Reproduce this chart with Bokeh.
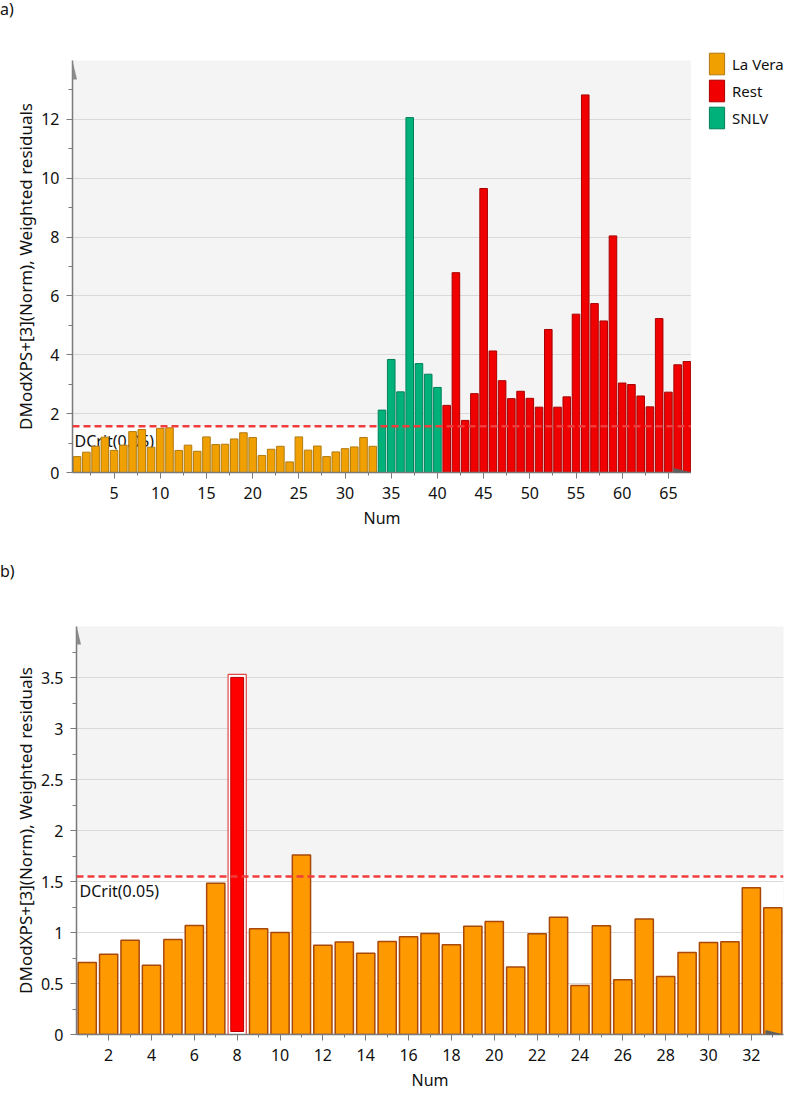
from bokeh.plotting import figure
from bokeh.layouts import column, row
from bokeh.models import (Range1d, FixedTicker, Span, BoxAnnotation, PolyAnnotation,
                          Legend, LegendItem, Div)
from bokeh.core.properties import value
from bokeh.embed import file_html
from bokeh.resources import INLINE

FONT = "Noto Sans"

# ---------------- data: panel a) ----------------
a_lavera_num = list(range(1, 34))
a_lavera_val = [0.54, 0.69, 0.89, 1.20, 0.75, 0.93, 1.39, 1.46, 0.86, 1.50, 1.52,
                0.75, 0.93, 0.72, 1.21, 0.95, 0.96, 1.14, 1.35, 1.19, 0.58, 0.79,
                0.89, 0.36, 1.21, 0.76, 0.90, 0.54, 0.70, 0.81, 0.87, 1.19, 0.89]
a_snlv_num = list(range(34, 41))
a_snlv_val = [2.12, 3.84, 2.74, 12.06, 3.70, 3.34, 2.89]
a_rest_num = list(range(41, 68))
a_rest_val = [2.28, 6.79, 1.77, 2.68, 9.65, 4.13, 3.12, 2.51, 2.76, 2.52, 2.22,
              4.86, 2.22, 2.57, 5.38, 12.83, 5.74, 5.15, 8.04, 3.04, 2.99, 2.60,
              2.23, 5.23, 2.73, 3.66, 3.77]
a_dcrit = 1.57
a_xticks = [5, 10, 15, 20, 25, 30, 35, 40, 45, 50, 55, 60, 65]
a_xminor = [2.5, 7.5, 12.5, 17.5, 22.5, 27.5, 32.5, 37.5, 42.5, 47.5, 52.5, 57.5, 62.5, 67.5]
a_yticks = [0, 2, 4, 6, 8, 10, 12]
a_yminor = [1, 3, 5, 7, 9, 11, 13]
legend_labels = ["La Vera", "Rest", "SNLV"]

# ---------------- data: panel b) ----------------
b_num = list(range(1, 34))
b_val = [0.705, 0.786, 0.925, 0.679, 0.932, 1.068, 1.484, 3.53, 1.036, 1.00, 1.76,
         0.876, 0.906, 0.796, 0.912, 0.958, 0.990, 0.880, 1.062, 1.107, 0.662,
         0.987, 1.149, 0.481, 1.065, 0.536, 1.133, 0.568, 0.805, 0.903, 0.909,
         1.438, 1.243]
b_highlight = [8]
b_dcrit = 1.55
b_xticks = [2, 4, 6, 8, 10, 12, 14, 16, 18, 20, 22, 24, 26, 28, 30, 32]
b_xminor = [1, 3, 5, 7, 9, 11, 13, 15, 17, 19, 21, 23, 25, 27, 29, 31, 33]
b_yticks = [0, 0.5, 1, 1.5, 2, 2.5, 3, 3.5]
b_yminor = [0.25, 0.75, 1.25, 1.75, 2.25, 2.75, 3.25, 3.75]

AXIS_COLOR = "#7A7A7A"
TEXT_COLOR = "#111111"
C_LAVERA, L_LAVERA = "#F0A000", "#B07A10"
C_REST, L_REST = "#F00000", "#A80000"
C_SNLV, L_SNLV = "#00B27A", "#00805A"

YLABEL = "DModXPS+[3](Norm), Weighted residuals"
PAGE_W = 790


def style(p, xt, xm, yt, ym, ylabel):
    p.xaxis.ticker = FixedTicker(ticks=xt, minor_ticks=xm)
    p.yaxis.ticker = FixedTicker(ticks=yt, minor_ticks=ym)
    p.ygrid.ticker = FixedTicker(ticks=yt)
    p.xgrid.visible = False
    p.ygrid.grid_line_color = "#D9D9D9"
    p.ygrid.grid_line_width = 1
    for ax in (p.xaxis[0], p.yaxis[0]):
        ax.axis_line_color = AXIS_COLOR
        ax.axis_line_width = 1.5
        ax.major_tick_line_color = AXIS_COLOR
        ax.minor_tick_line_color = AXIS_COLOR
        ax.major_tick_in = 0
        ax.minor_tick_in = 0
        ax.major_tick_out = 6
        ax.major_label_text_font = FONT
        ax.major_label_text_font_size = "16px"
        ax.major_label_text_color = TEXT_COLOR
        ax.axis_label_text_font = FONT
        ax.axis_label_text_font_size = "16px"
        ax.axis_label_text_font_style = "normal"
        ax.axis_label_text_color = TEXT_COLOR
    p.yaxis.axis_label_text_font_size = "17px"
    p.xaxis.minor_tick_out = 3
    p.yaxis.minor_tick_out = 4
    p.xaxis.major_label_standoff = 8
    p.yaxis.major_label_standoff = 7
    p.xaxis.axis_label_standoff = 5
    p.yaxis.axis_label_standoff = 1
    p.xaxis.axis_label = "Num"
    p.yaxis.axis_label = ylabel
    p.outline_line_color = None
    p.background_fill_color = "#F4F4F4"
    p.border_fill_color = "white"


def arrows(p, fw, fh):
    p.add_layout(PolyAnnotation(xs=[-4.5, 0, 4.5], ys=[fh - 19, fh, fh - 19],
                                xs_units="screen", ys_units="screen",
                                fill_color="#8C8C8C", fill_alpha=1, line_color=None))
    p.add_layout(PolyAnnotation(xs=[fw - 18, fw, fw - 18], ys=[4.5, 0, -4.5],
                                xs_units="screen", ys_units="screen",
                                fill_color="#5E5E5E", fill_alpha=1, line_color=None))


def panel_tag(txt, w, h):
    return Div(text=txt, width=w, height=h,
               styles={"font-family": FONT, "font-size": "16px", "color": TEXT_COLOR,
                       "line-height": "18px", "margin": "0", "padding": "0"})


# ---------------- figure a) ----------------
FL1, FW1, FH1 = 72, 619, 412
H1 = 540
TAG_A_H = 22
p1 = figure(width=FL1 + FW1, height=H1, output_backend="svg", toolbar_location=None,
            x_range=Range1d(0.5, 67.5), y_range=Range1d(0, 14),
            min_border_left=FL1, min_border_right=0, min_border_top=38,
            min_border_bottom=H1 - 38 - FH1)
style(p1, a_xticks, a_xminor, a_yticks, a_yminor, YLABEL)
p1.add_layout(BoxAnnotation(bottom=0, top=a_dcrit, fill_color="white", fill_alpha=1,
                            line_color=None, level="image"))
p1.text(x=[p1.x_range.start], y=[a_dcrit], text=["DCrit(0.05)"], x_offset=2, y_offset=4,
        text_baseline="top", text_align="left", text_font=value(FONT),
        text_font_size="16px", text_color=TEXT_COLOR)
p1.vbar(x=a_lavera_num, top=a_lavera_val, width=0.82, fill_color=C_LAVERA,
        line_color=L_LAVERA, line_width=1)
p1.vbar(x=a_rest_num, top=a_rest_val, width=0.82, fill_color=C_REST,
        line_color=L_REST, line_width=1)
p1.vbar(x=a_snlv_num, top=a_snlv_val, width=0.82, fill_color=C_SNLV,
        line_color=L_SNLV, line_width=1)
p1.add_layout(Span(location=a_dcrit, dimension="width", line_color="#F03C3C",
                   line_width=2.5, line_dash="7 4"))
arrows(p1, FW1, FH1)

# legend panel (separate figure, so the legend is not clipped by the bar plot's frame);
# its dummy bars lie outside its own ranges and are never visible
PL_H = TAG_A_H + H1
pl = figure(width=PAGE_W - (FL1 + FW1), height=PL_H, output_backend="svg",
            toolbar_location=None, x_axis_type=None, y_axis_type=None,
            min_border_left=0, min_border_right=0, min_border_top=34,
            min_border_bottom=0, x_range=Range1d(0, 1), y_range=Range1d(0, 1))
pl.outline_line_color = None
pl.background_fill_color = "white"
pl.border_fill_color = "white"
leg_r = []
for c, lc in [(C_LAVERA, L_LAVERA), (C_REST, L_REST), (C_SNLV, L_SNLV)]:
    leg_r.append(pl.vbar(x=[-5], bottom=[-6], top=[-5], width=0.5, fill_color=c,
                         line_color=lc, line_width=1))
legend = Legend(items=[LegendItem(label=l, renderers=[r]) for l, r in zip(legend_labels, leg_r)],
                location="top_left", glyph_width=19, glyph_height=27, spacing=0,
                padding=0, margin=16, border_line_color=None,
                background_fill_alpha=0, label_text_font=FONT, label_text_font_size="15px",
                label_text_color=TEXT_COLOR, label_standoff=6, label_height=27)
pl.add_layout(legend)

# ---------------- figure b) ----------------
FL2, FW2, FH2 = 76, 707, 409
H2 = 511
b_lv_num = [n for n in b_num if n not in b_highlight]
b_lv_val = [v for n, v in zip(b_num, b_val) if n not in b_highlight]
b_hi_num = [n for n in b_num if n in b_highlight]
b_hi_val = [v for n, v in zip(b_num, b_val) if n in b_highlight]
gap = 3.0 * 4 / FH2  # 3 px inner gap expressed in data units

p2 = figure(width=PAGE_W, height=H2, output_backend="svg", toolbar_location=None,
            x_range=Range1d(0.5, 33.5), y_range=Range1d(0, 4),
            min_border_left=FL2, min_border_right=PAGE_W - FL2 - FW2, min_border_top=44,
            min_border_bottom=H2 - 44 - FH2)
style(p2, b_xticks, b_xminor, b_yticks, b_yminor, YLABEL)
p2.add_layout(BoxAnnotation(bottom=0, top=b_dcrit, fill_color="white", fill_alpha=1,
                            line_color=None, level="image"))
p2.text(x=[p2.x_range.start], y=[b_dcrit], text=["DCrit(0.05)"], x_offset=3, y_offset=4,
        text_baseline="top", text_align="left", text_font=value(FONT),
        text_font_size="16px", text_color=TEXT_COLOR)
p2.vbar(x=b_lv_num, top=b_lv_val, width=0.85, fill_color="#FF9900",
        line_color="#A8480A", line_width=1.5)
p2.vbar(x=b_hi_num, top=b_hi_val, width=0.85, fill_color="white",
        line_color="#E04848", line_width=1.2)
p2.vbar(x=b_hi_num, top=[v - gap for v in b_hi_val], bottom=gap, width=0.6,
        fill_color="#FF0000", line_color="#B80000", line_width=1)
p2.add_layout(Span(location=b_dcrit, dimension="width", line_color="#F03C3C",
                   line_width=2.5, line_dash="7 4"))
arrows(p2, FW2, FH2)

top_block = row(column(panel_tag("a)", FL1 + FW1, TAG_A_H), p1, spacing=0), pl, spacing=0)
layout = column(top_block, panel_tag("b)", PAGE_W, 20), p2, spacing=0)
open("out.html", "w").write(file_html(layout, INLINE))
